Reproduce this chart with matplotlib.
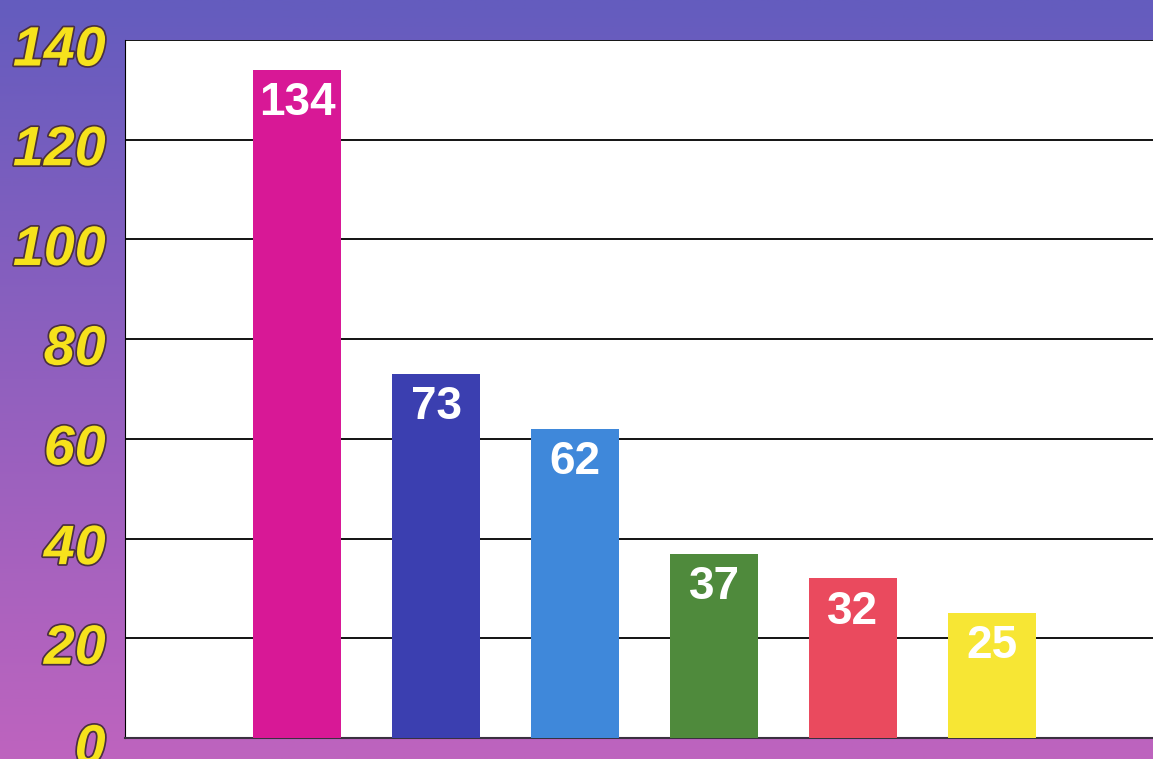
import numpy as np
import matplotlib.pyplot as plt
import matplotlib.patheffects as pe
import matplotlib.transforms as mtransforms

# data
values = [134, 73, 62, 37, 32, 25]
bar_colors = ["#d81896", "#3b3fb0", "#3f88da", "#4f8a3c", "#ea4a5e", "#f7e634"]
yticks = [0, 20, 40, 60, 80, 100, 120, 140]

fig = plt.figure(figsize=(11.53, 7.59), dpi=100)

# purple/blue gradient backdrop
bg = fig.add_axes([0, 0, 1, 1])
top = np.array([100, 92, 190]) / 255
bottom = np.array([190, 100, 190]) / 255
t = np.linspace(0, 1, 256)[:, None]
grad = top[None, :] * (1 - t) + bottom[None, :] * t
grad = np.repeat(grad[:, None, :], 2, axis=1)
bg.imshow(grad, aspect="auto", extent=[0, 1, 0, 1])
bg.set_axis_off()

ax = fig.add_axes([125 / 1153, 21 / 759, 1 - 125 / 1153, 698 / 759])
ax.set_facecolor("white")
x = np.arange(len(values))
bars = ax.bar(x, values, width=0.63, color=bar_colors, zorder=3)

for xi, v in zip(x, values):
    ax.annotate(str(v), (xi, v), xytext=(0, -8), textcoords="offset points",
                ha="center", va="top", color="white", fontsize=33,
                fontweight="bold", family="Liberation Sans", zorder=4)

ax.set_xlim(-1.24, 6.16)
ax.set_ylim(0, 140)
ax.set_yticks(yticks)
ax.set_xticks([])
ax.yaxis.grid(True, color="black", linewidth=1.3, zorder=1)
ax.set_axisbelow(True)
ax.tick_params(axis="y", length=0, pad=14)
shift = mtransforms.ScaledTranslation(0, -4 / 72, fig.dpi_scale_trans)
for lab in ax.get_yticklabels():
    lab.set_color("#f6e21c")
    lab.set_fontsize(40)
    lab.set_fontweight("bold")
    lab.set_fontstyle("italic")
    lab.set_family("Liberation Sans")
    lab.set_path_effects([pe.withStroke(linewidth=2.5, foreground="#4a3040")])
    lab.set_transform(lab.get_transform() + shift)

for side in ["top", "right"]:
    ax.spines[side].set_visible(False)
ax.spines["left"].set_color("black")
ax.spines["bottom"].set_color("#3a3040")
ax.spines["bottom"].set_linewidth(1.5)

fig.savefig("out.png", dpi=100)
